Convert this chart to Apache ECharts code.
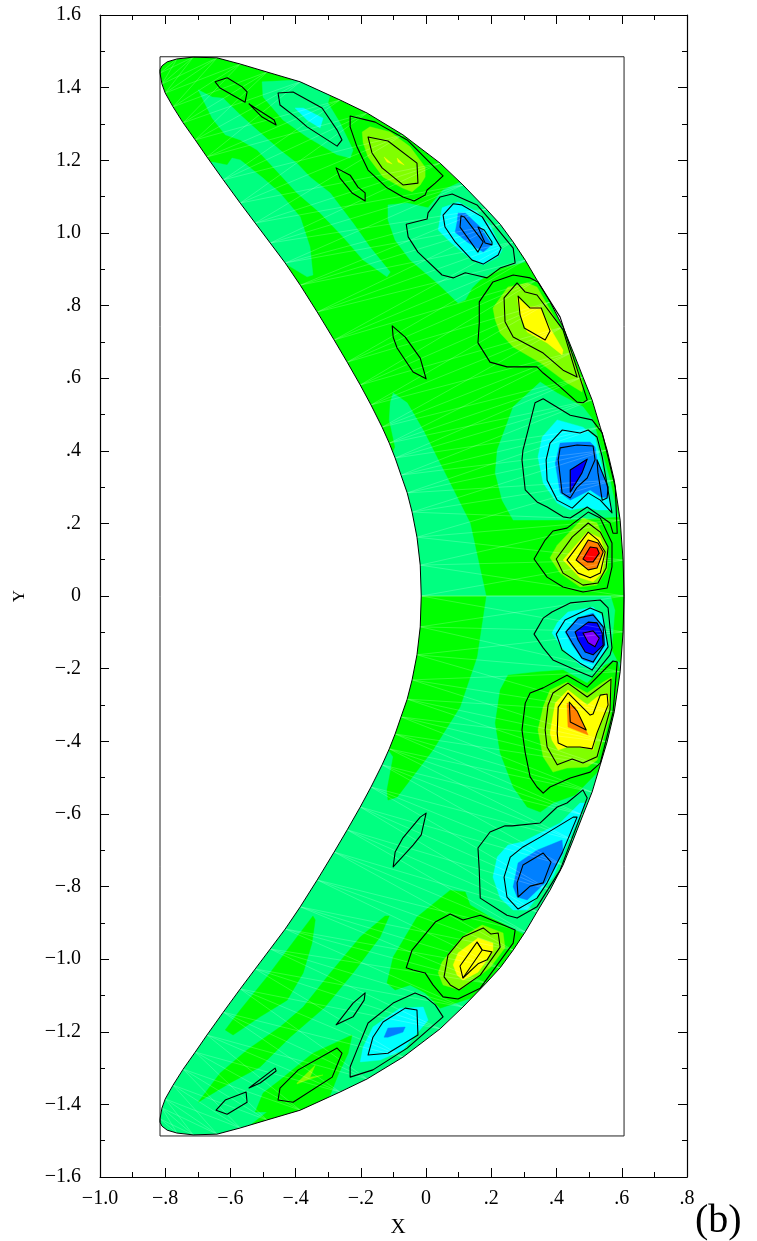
<!DOCTYPE html>
<html><head><meta charset="utf-8">
<style>html,body{margin:0;padding:0;background:#fff}#c{width:757px;height:1241px}</style>
<script src="https://cdn.jsdelivr.net/npm/echarts@6/dist/echarts.min.js"></script></head>
<body><div id="c"></div>
<script>
const xTickLabels=['\u22121.0','\u2212.8','\u2212.6','\u2212.4','\u2212.2','0','.2','.4','.6','.8'];
const yTickLabels=['\u22121.6','\u22121.4','\u22121.2','\u22121.0','\u2212.8','\u2212.6','\u2212.4','\u2212.2','0','.2','.4','.6','.8','1.0','1.2','1.4','1.6'];
const domainBox=[[-.816,1.485],[.607,1.485],[.607,-1.487],[-.816,-1.487]];
const outerUpper=[[.607,0],[.604,.099],[.595,.209],[.577,.319],[.555,.402],[.534,.465],[.509,.540],[.481,.603],[.451,.672],[.420,.741],[.380,.810],[.340,.870],[.304,.925],[.267,.975],[.227,1.024],[.184,1.066],[.113,1.132],[.043,1.192],[-.071,1.270],[-.181,1.330],[-.264,1.366],[-.386,1.416],[-.488,1.443],[-.570,1.465],[-.641,1.482],[-.714,1.484],[-.764,1.479],[-.794,1.471],[-.810,1.460],[-.816,1.449]];
const innerUpper=[[-.015,0],[-.018,.085],[-.028,.162],[-.043,.231],[-.058,.284],[-.077,.333],[-.095,.380],[-.113,.421],[-.135,.465],[-.169,.526],[-.202,.581],[-.242,.644],[-.282,.705],[-.334,.782],[-.386,.856],[-.432,.917],[-.478,.972],[-.524,1.027],[-.570,1.082],[-.622,1.146],[-.672,1.209],[-.708,1.256],[-.745,1.303],[-.776,1.347],[-.800,1.385],[-.810,1.410],[-.816,1.440]];

// filled contour bands, upper half
const s1=[[-.656,1.195],[-.610,1.187],[-.595,1.206],[-.570,1.201],[-.500,1.151],[-.448,1.110],[-.386,1.044],[-.356,.961],[-.347,.884],[-.365,.879],[-.426,.912],[-.540,1.008],[-.693,1.187]];
const band=[[-.699,1.394],[-.656,1.374],[-.622,1.371],[-.570,1.325],[-.518,1.283],[-.448,1.228],[-.396,1.192],[-.356,1.154],[-.294,1.110],[-.224,1.027],[-.172,.961],[-.110,.892],[-.120,.879],[-.193,.925],[-.255,.989],[-.325,1.055],[-.396,1.110],[-.469,1.181],[-.518,1.228],[-.570,1.256],[-.616,1.270],[-.656,1.316]];
const s3=[[-.503,1.416],[-.396,1.421],[-.294,1.380],[-.301,1.358],[-.264,1.303],[-.224,1.228],[-.233,1.206],[-.273,1.215],[-.365,1.264],[-.439,1.311],[-.500,1.374]];
const cyanTop=[[-.402,1.344],[-.377,1.344],[-.316,1.316],[-.325,1.289],[-.365,1.311]];
const ygTop=[[-.196,1.278],[-.172,1.292],[-.110,1.278],[-.049,1.237],[-.003,1.181],[-.003,1.154],[-.018,1.132],[-.043,1.113],[-.074,1.124],[-.132,1.154],[-.178,1.209],[-.193,1.248]];
const yellowSpeckA=[[-.129,1.209],[-.104,1.190],[-.120,1.195]];
const yellowSpeckB=[[-.089,1.206],[-.067,1.187],[-.086,1.195]];
const springBlob1=[[-.117,1.077],[-.058,1.082],[.006,1.069],[.052,1.118],[.120,1.146],[.196,1.077],[.242,1.008],[.304,.920],[.227,.903],[.166,.870],[.141,.848],[.120,.815],[.098,.807],[.034,.862],[-.049,.925],[-.095,.980],[-.117,1.036]];
const cyanBlob1=[[.049,1.069],[.098,1.085],[.156,1.058],[.196,1.022],[.233,.953],[.221,.934],[.175,.912],[.141,.925],[.074,.975],[.037,1.008]];
const azureBlob1=[[.098,1.055],[.120,1.055],[.166,1.016],[.202,.967],[.175,.947],[.126,.975],[.089,1.002],[.095,1.030]];
const ygBlob8=[[.205,.793],[.251,.851],[.310,.862],[.340,.851],[.420,.727],[.481,.587],[.478,.562],[.432,.587],[.350,.642],[.267,.686],[.227,.724],[.212,.760]];
const yellowBlob8=[[.279,.823],[.313,.796],[.350,.796],[.380,.738],[.420,.677],[.417,.664],[.371,.697],[.310,.727],[.288,.774]];
const springBlob4=[[.212,.339],[.218,.402],[.267,.521],[.350,.589],[.402,.559],[.481,.521],[.512,.485],[.564,.319],[.589,.218],[.432,.209],[.310,.209],[.267,.209],[.233,.264]];
const cyanBlob4=[[.343,.383],[.356,.438],[.402,.485],[.481,.465],[.518,.438],[.570,.237],[.524,.237],[.494,.245],[.442,.237],[.402,.256],[.359,.311]];
const azureBlob4=[[.396,.366],[.411,.421],[.463,.424],[.503,.424],[.518,.410],[.524,.375],[.558,.300],[.555,.270],[.534,.273],[.503,.292],[.442,.264],[.411,.284]];
const blueBlob4=[[.442,.347],[.494,.377],[.478,.339],[.442,.286]];
const ygRed=[[.380,.105],[.402,.140],[.481,.215],[.524,.201],[.558,.135],[.555,.072],[.524,.030],[.472,.025],[.411,.063]];
const yellowRed=[[.420,.099],[.494,.176],[.534,.160],[.549,.118],[.540,.063],[.512,.039],[.472,.050]];
const orangeRed=[[.460,.099],[.497,.154],[.527,.146],[.543,.121],[.524,.077],[.497,.072]];
const redCore=[[.481,.102],[.503,.135],[.524,.132],[.531,.118],[.512,.094],[.494,.094]];
const springInner=[[-.110,.532],[-.101,.559],[-.058,.532],[-.009,.457],[.064,.328],[.135,.201],[.184,0],[-.034,0],[-.049,.182],[-.110,.375],[-.095,.410],[-.113,.485]];

// filled contour bands, lower half
const greenInner=[[.184,0],[.156,-.168],[.104,-.306],[.021,-.424],[-.089,-.554],[-.117,-.562],[-.120,-.534],[-.101,-.443],[-.126,-.410],[-.080,-.286],[-.034,-.121],[-.034,0]];
const greenBlobLow=[[.212,-.350],[.227,-.259],[.251,-.218],[.340,-.209],[.420,-.204],[.494,-.240],[.549,-.190],[.586,-.176],[.610,-.259],[.570,-.443],[.512,-.498],[.457,-.548],[.389,-.570],[.350,-.595],[.310,-.581],[.267,-.526],[.227,-.432]];
const greenEdge=[[.567,0],[.656,0],[.656,-.231],[.586,-.176],[.570,-.149],[.580,-.039]];
const ygLow=[[.343,-.369],[.359,-.306],[.380,-.259],[.432,-.237],[.494,-.267],[.543,-.237],[.570,-.223],[.564,-.333],[.524,-.452],[.494,-.471],[.432,-.474],[.389,-.485],[.359,-.443]];
const yellowLow=[[.380,-.377],[.396,-.295],[.435,-.259],[.494,-.300],[.524,-.278],[.555,-.267],[.564,-.295],[.524,-.377],[.512,-.424],[.472,-.416],[.432,-.416],[.405,-.424],[.386,-.397]];
const orangeLow=[[.432,-.295],[.457,-.306],[.497,-.383],[.435,-.361]];
const cyanNeg=[[.386,-.102],[.402,-.074],[.435,-.044],[.512,-.030],[.543,-.058],[.558,-.140],[.512,-.204],[.472,-.190],[.417,-.143]];
const azureNeg=[[.426,-.099],[.463,-.061],[.512,-.047],[.543,-.085],[.549,-.135],[.512,-.185],[.481,-.176],[.448,-.135]];
const blueNeg=[[.457,-.099],[.497,-.072],[.524,-.074],[.540,-.102],[.543,-.135],[.512,-.162],[.488,-.154],[.466,-.121]];
const purpleNeg=[[.481,-.102],[.512,-.096],[.531,-.116],[.518,-.140],[.497,-.129]];
const cyanLow8=[[.205,-.774],[.218,-.719],[.251,-.686],[.297,-.677],[.411,-.625],[.472,-.570],[.488,-.570],[.389,-.774],[.310,-.865],[.267,-.865],[.227,-.832]];
const azureLow8=[[.267,-.801],[.282,-.735],[.340,-.700],[.417,-.672],[.420,-.708],[.365,-.790],[.310,-.837],[.279,-.829]];
const greenLow10=[[-.120,-1.066],[-.101,-.994],[-.028,-.884],[.074,-.810],[.120,-.815],[.135,-.851],[.196,-.884],[.304,-.934],[.258,-1.002],[.166,-1.099],[.043,-1.135],[-.003,-1.093],[-.049,-1.071],[-.095,-1.085]];
const ygLow10=[[.037,-1.038],[.049,-1.008],[.110,-.939],[.172,-.906],[.236,-.928],[.242,-.969],[.196,-1.024],[.104,-1.085],[.052,-1.071]];
const yellowLow10=[[.083,-1.016],[.098,-.983],[.159,-.942],[.205,-.956],[.205,-.980],[.159,-1.036],[.113,-1.058],[.095,-1.044]];
const greenBand=[[-.699,-1.394],[-.632,-1.314],[-.549,-1.250],[-.448,-1.187],[-.377,-1.132],[-.294,-1.038],[-.202,-.939],[-.126,-.881],[-.113,-.881],[-.141,-.939],[-.224,-1.038],[-.310,-1.132],[-.417,-1.215],[-.509,-1.297],[-.601,-1.341]];
const greenInnerTip=[[-.616,-1.195],[-.570,-1.140],[-.488,-1.049],[-.396,-.939],[-.347,-.881],[-.340,-.892],[-.350,-.956],[-.377,-1.038],[-.426,-1.113],[-.509,-1.159],[-.592,-1.209]];
const greenOuterTip=[[-.561,-1.473],[-.488,-1.421],[-.524,-1.421],[-.500,-1.369],[-.448,-1.333],[-.347,-1.259],[-.227,-1.209],[-.239,-1.259],[-.270,-1.319],[-.294,-1.374],[-.386,-1.457],[-.509,-1.498]];
const cyanLow12=[[-.202,-1.283],[-.193,-1.242],[-.163,-1.187],[-.080,-1.135],[-.009,-1.132],[.006,-1.168],[-.071,-1.250],[-.141,-1.278]];
const azureLow12=[[-.129,-1.215],[-.117,-1.190],[-.064,-1.187],[-.071,-1.201],[-.117,-1.215]];
const ygLow13=[[-.396,-1.341],[-.340,-1.292],[-.356,-1.325],[-.316,-1.319],[-.365,-1.333],[-.396,-1.344]];

// contour lines
const cTop1=[[-.454,1.385],[-.408,1.388],[-.319,1.344],[-.273,1.283],[-.258,1.256],[-.273,1.239],[-.365,1.292],[-.396,1.316],[-.448,1.352]];
const cTop2=[[-.647,1.416],[-.610,1.427],[-.564,1.402],[-.549,1.388],[-.555,1.360],[-.632,1.399]];
const cTop3=[[-.543,1.355],[-.466,1.311],[-.460,1.297],[-.503,1.319]];
const cTop4=[[-.276,1.179],[-.233,1.159],[-.209,1.126],[-.187,1.110],[-.187,1.088],[-.227,1.110],[-.264,1.151]];
const cMid7=[[-.104,.744],[-.064,.713],[-.018,.655],[0,.598],[-.040,.617],[-.089,.683],[-.101,.713]];
const cYg1=[[-.233,1.322],[-.156,1.305],[-.058,1.256],[.052,1.157],[.028,1.137],[.003,1.118],[-.003,1.104],[-.037,1.088],[-.071,1.099],[-.120,1.124],[-.178,1.173],[-.212,1.237],[-.233,1.292]];
const cYg2=[[-.178,1.264],[-.117,1.253],[-.028,1.192],[-.025,1.137],[-.071,1.132],[-.135,1.179],[-.166,1.220]];
const cB1a=[[-.061,1.024],[.003,1.038],[.006,1.055],[.043,1.099],[.080,1.107],[.156,1.077],[.196,1.036],[.267,.958],[.273,.917],[.227,.903],[.187,.876],[.150,.884],[.120,.890],[.083,.876],[.049,.884],[-.025,.947],[-.055,.989]];
const cB1b=[[.052,1.049],[.083,1.080],[.110,1.077],[.172,1.044],[.230,.958],[.221,.939],[.175,.914],[.141,.925],[.089,.975],[.058,1.016]];
const cB1c=[[.107,1.047],[.117,1.044],[.175,.975],[.159,.947],[.104,1.016]];
const cB1d=[[.159,1.016],[.178,1.008],[.202,.975],[.202,.967],[.181,.972]];
const cY8a=[[.163,.810],[.205,.865],[.267,.884],[.319,.876],[.343,.865],[.411,.768],[.494,.540],[.481,.532],[.463,.534],[.411,.576],[.359,.614],[.340,.631],[.267,.631],[.248,.631],[.196,.644],[.159,.697],[.163,.752]];
const cY8b=[[.239,.821],[.279,.862],[.304,.837],[.340,.829],[.420,.733],[.463,.603],[.420,.622],[.359,.669],[.267,.713],[.242,.755]];
const cY8c=[[.282,.826],[.319,.793],[.353,.793],[.380,.730],[.365,.705],[.301,.738],[.288,.774]];
const cB4a=[[.297,.402],[.334,.532],[.359,.543],[.442,.498],[.509,.485],[.540,.449],[.580,.300],[.586,.173],[.573,.173],[.564,.201],[.494,.245],[.442,.215],[.420,.218],[.371,.245],[.340,.259],[.304,.292],[.294,.375]];
const cB4b=[[.368,.375],[.380,.421],[.417,.457],[.472,.449],[.497,.457],[.524,.438],[.540,.383],[.570,.229],[.534,.264],[.497,.284],[.448,.242],[.402,.264],[.371,.319]];
const cB4c=[[.405,.375],[.411,.408],[.463,.416],[.512,.413],[.518,.375],[.494,.325],[.463,.300],[.442,.270],[.417,.284]];
const cB4d=[[.524,.375],[.558,.300],[.555,.270],[.540,.264],[.527,.339]];
const cB4e=[[.442,.347],[.494,.377],[.478,.339],[.442,.286]];
const cRa=[[.331,.102],[.365,.154],[.389,.179],[.432,.187],[.497,.231],[.534,.215],[.570,.146],[.570,.080],[.555,.022],[.481,.011],[.420,.025],[.371,.052]];
const cRb=[[.399,.102],[.448,.162],[.497,.201],[.534,.176],[.558,.135],[.552,.077],[.527,.036],[.481,.030],[.420,.063]];
const cRc=[[.432,.099],[.497,.176],[.527,.154],[.549,.121],[.534,.063],[.503,.050],[.466,.063]];
const cRd=[[.460,.099],[.497,.154],[.527,.146],[.543,.121],[.524,.077],[.497,.072]];
const cRe=[[.481,.102],[.503,.135],[.524,.132],[.531,.118],[.512,.094],[.494,.094]];
const cNa=[[.331,-.105],[.359,-.061],[.386,-.044],[.442,-.019],[.534,-.011],[.558,-.033],[.570,-.143],[.564,-.162],[.509,-.223],[.472,-.209],[.389,-.176],[.359,-.143]];
const cNb=[[.399,-.105],[.426,-.066],[.503,-.033],[.540,-.047],[.558,-.140],[.509,-.204],[.472,-.185],[.417,-.149]];
const cNc=[[.429,-.099],[.466,-.061],[.512,-.052],[.543,-.085],[.546,-.135],[.512,-.182],[.478,-.171],[.448,-.129]];
const cNd=[[.457,-.099],[.497,-.072],[.524,-.074],[.540,-.102],[.543,-.135],[.512,-.162],[.488,-.154],[.466,-.121]];
const cNe=[[.481,-.102],[.512,-.096],[.531,-.116],[.518,-.140],[.497,-.129]];
const cLa=[[.294,-.369],[.304,-.295],[.319,-.267],[.359,-.253],[.432,-.218],[.494,-.251],[.573,-.179],[.586,-.182],[.573,-.322],[.534,-.460],[.503,-.485],[.442,-.501],[.380,-.526],[.359,-.543],[.340,-.526],[.319,-.498],[.304,-.432]];
const cLb=[[.365,-.369],[.374,-.300],[.389,-.267],[.435,-.240],[.494,-.278],[.567,-.229],[.564,-.314],[.524,-.443],[.481,-.460],[.448,-.449],[.402,-.465],[.371,-.416]];
const cLc=[[.402,-.377],[.405,-.306],[.435,-.267],[.503,-.328],[.512,-.325],[.534,-.273],[.555,-.270],[.558,-.300],[.524,-.377],[.509,-.421],[.472,-.416],[.432,-.416],[.405,-.405]];
const cLd=[[.439,-.292],[.463,-.317],[.491,-.369],[.442,-.347]];
const cB8a=[[.159,-.694],[.196,-.650],[.242,-.633],[.264,-.633],[.350,-.625],[.402,-.581],[.432,-.570],[.481,-.534],[.494,-.556],[.411,-.755],[.340,-.856],[.279,-.887],[.248,-.879],[.166,-.832],[.163,-.755]];
const cB8b=[[.239,-.774],[.258,-.719],[.297,-.691],[.350,-.664],[.451,-.609],[.463,-.609],[.417,-.708],[.371,-.790],[.340,-.832],[.282,-.862],[.248,-.829]];
const cB8c=[[.279,-.790],[.297,-.741],[.359,-.708],[.383,-.733],[.359,-.790],[.319,-.799],[.282,-.829]];
const cY10a=[[-.061,-1.024],[-.043,-.975],[.028,-.898],[.074,-.876],[.113,-.892],[.166,-.879],[.273,-.920],[.267,-.956],[.166,-1.080],[.098,-1.110],[.052,-1.104],[.021,-1.071],[-.003,-1.038],[-.040,-1.030]];
const cY10b=[[.055,-1.049],[.067,-.989],[.113,-.939],[.175,-.914],[.199,-.931],[.221,-.928],[.227,-.967],[.166,-1.044],[.101,-1.085],[.074,-1.071]];
const cY10c=[[.104,-1.019],[.156,-.953],[.172,-.975],[.202,-.980],[.187,-1.002],[.159,-1.013],[.113,-1.052]];
const cY10d=[[.156,-.953],[.172,-.975],[.113,-1.052]];
const cC12a=[[-.233,-1.325],[-.233,-1.297],[-.212,-1.250],[-.178,-1.176],[-.101,-1.121],[-.034,-1.093],[-.003,-1.104],[.028,-1.126],[.052,-1.159],[-.058,-1.245],[-.163,-1.305]];
const cC12b=[[-.178,-1.264],[-.163,-1.215],[-.132,-1.173],[-.064,-1.135],[-.028,-1.140],[-.025,-1.209],[-.117,-1.259]];
const cL13=[[-.454,-1.388],[-.448,-1.355],[-.392,-1.305],[-.273,-1.245],[-.258,-1.259],[-.288,-1.325],[-.408,-1.394]];
const cL14=[[-.644,-1.416],[-.616,-1.388],[-.552,-1.366],[-.549,-1.394],[-.610,-1.427]];
const cL15=[[-.543,-1.355],[-.463,-1.300],[-.460,-1.308],[-.509,-1.341]];
const cL11=[[-.276,-1.181],[-.224,-1.121],[-.187,-1.093],[-.190,-1.113],[-.224,-1.159]];
const cL7=[[0,-.598],[-.018,-.609],[-.071,-.666],[-.095,-.705],[-.101,-.746],[-.040,-.686],[-.015,-.658]];

const GREEN='#00ff00',SPRING='#00ff80',YG='#80ff00',YEL='#ffff00',ORG='#ff8000',RED='#ff0000',CYN='#00ffff',AZU='#0080ff',BLU='#0000ff',PUR='#8000ff';
const mirror=a=>a.map(p=>[p[0],-p[1]]);
const outerLower=mirror(outerUpper), innerLower=mirror(innerUpper);
const F=(pts,fill)=>({pts,fill,closed:true});
const fills=[
 F(outerUpper.concat(innerUpper.slice().reverse()),GREEN),
 F(outerLower.concat(innerLower.slice().reverse()),SPRING),
 F(s1,SPRING),F(band,SPRING),F(s3,SPRING),F(cyanTop,CYN),F(springBlob1,SPRING),F(cyanBlob1,CYN),F(azureBlob1,AZU),
 F(ygTop,YG),F(yellowSpeckA,YEL),F(yellowSpeckB,YEL),F(ygBlob8,YG),F(yellowBlob8,YEL),
 F(springInner,SPRING),F(springBlob4,SPRING),F(cyanBlob4,CYN),F(azureBlob4,AZU),F(blueBlob4,BLU),
 F(ygRed,YG),F(yellowRed,YEL),F(orangeRed,ORG),F(redCore,RED),
 F(greenInner,GREEN),F(greenBlobLow,GREEN),F(greenEdge,GREEN),F(ygLow,YG),F(yellowLow,YEL),F(orangeLow,ORG),
 F(cyanNeg,CYN),F(azureNeg,AZU),F(blueNeg,BLU),F(purpleNeg,PUR),
 F(cyanLow8,CYN),F(azureLow8,AZU),F(greenLow10,GREEN),F(ygLow10,YG),F(yellowLow10,YEL),
 F(greenBand,GREEN),F(greenInnerTip,GREEN),F(greenOuterTip,GREEN),F(cyanLow12,CYN),F(azureLow12,AZU),F(ygLow13,YG)
];
// finite element mesh: straight edges joining the boundary nodes
const meshLines=[];
[[outerUpper,innerUpper],[outerLower,innerLower]].forEach(([o,n])=>{
 const m=Math.min(o.length,n.length);
 for(let i=0;i<m;i++){meshLines.push({pts:[o[i],n[i]]});if(i+1<m){meshLines.push({pts:[o[i],n[i+1]]});meshLines.push({pts:[o[i+1],n[i]]});}}
});
// masks trim the bands to the domain
const maskOuter=outerUpper.slice().reverse().concat(outerLower).concat([[-.83,-1.449],[-.83,-1.52],[.66,-1.52],[.66,1.52],[-.83,1.52],[-.83,1.449]]);
const maskInner=innerUpper.slice().reverse().concat(innerLower).concat([[-.83,-1.44],[-.83,1.44]]);
const contours=[cTop1,cTop2,cTop3,cTop4,cMid7,cYg1,cYg2,cB1a,cB1b,cB1c,cB1d,cY8a,cY8b,cY8c,cB4a,cB4b,cB4c,cB4d,cB4e,cRa,cRb,cRc,cRd,cRe,cNa,cNb,cNc,cNd,cNe,cLa,cLb,cLc,cLd,cB8a,cB8b,cB8c,cY10a,cY10b,cY10c,cL13,cL14,cL15,cL11,cL7,cC12a,cC12b].map(p=>({pts:p,closed:true}));
contours.push({pts:cY10d});

function layer(shapes,base){
 return {type:'custom',silent:true,clip:false,animation:false,
  data:shapes.map(()=>[0,0]),
  renderItem(params,api){
   const s=shapes[params.dataIndex];
   return {type:s.closed?'polygon':'polyline',shape:{points:s.pts.map(p=>api.coord(p))},
    style:Object.assign({fill:s.closed&&s.fill?s.fill:'none',stroke:s.fill?s.fill:undefined,lineWidth:s.fill?.4:0,lineJoin:'round'},base||{})};
  }};
}
const FONT='"Liberation Serif"';
const axisCommon={axisLine:{show:true,onZero:false,lineStyle:{color:'#000',width:1.2}},
 axisTick:{show:true,inside:true,length:9,lineStyle:{color:'#000',width:1}},
 minorTick:{show:true,splitNumber:2,length:5,lineStyle:{color:'#000',width:1}},splitLine:{show:false},minorSplitLine:{show:false}};
const chart=echarts.init(document.getElementById('c'),null,{renderer:'canvas'});
chart.setOption({animation:false,backgroundColor:'#fff',
 grid:{left:100,top:15,width:587,height:1162,outerBoundsMode:'none'},
 xAxis:[Object.assign({type:'value',min:-1,max:.8,interval:.2,position:'bottom',
   name:'X',nameLocation:'middle',nameGap:40,nameTextStyle:{fontFamily:FONT,fontSize:21,color:'#000',padding:[0,0,0,9]},
   axisLabel:{fontFamily:FONT,fontSize:20,color:'#000',margin:12,showMinLabel:true,showMaxLabel:true,formatter:v=>xTickLabels[Math.round((v+1)/.2)]}},axisCommon),
  Object.assign({type:'value',min:-1,max:.8,interval:.2,position:'top',axisLabel:{show:false}},axisCommon)],
 yAxis:[Object.assign({type:'value',min:-1.6,max:1.6,interval:.2,position:'left',
   name:'Y',nameLocation:'middle',nameGap:72,nameRotate:90,nameTextStyle:{fontFamily:FONT,fontSize:17,color:'#000'},
   axisLabel:{fontFamily:FONT,fontSize:20,color:'#000',margin:19,showMinLabel:true,showMaxLabel:true,formatter:v=>yTickLabels[Math.round((v+1.6)/.2)]}},axisCommon),
  Object.assign({type:'value',min:-1.6,max:1.6,interval:.2,position:'right',axisLabel:{show:false}},axisCommon)],
 graphic:[{type:'text',left:695,top:1201,silent:true,style:{text:'(b)',font:'40px "Liberation Serif"',fill:'#000'}}],
 series:[
  layer(fills),
  layer(meshLines,{stroke:'rgba(255,255,255,0.32)',lineWidth:.6,fill:'none'}),
  layer([{pts:maskOuter,closed:true},{pts:maskInner,closed:true}],{fill:'#fff',stroke:'#fff',lineWidth:0}),
  layer([{pts:domainBox,closed:true}],{stroke:'#222',lineWidth:1,fill:'none'}),
  layer([{pts:outerUpper.slice().reverse().concat(outerLower.slice(1))},{pts:innerUpper.slice().reverse().concat(innerLower.slice(1))},{pts:[outerUpper[outerUpper.length-1],innerUpper[innerUpper.length-1]]},{pts:[outerLower[outerLower.length-1],innerLower[innerLower.length-1]]}],{stroke:'#000',lineWidth:1,fill:'none'}),
  layer(contours,{stroke:'#000',lineWidth:1.1,fill:'none'})
 ]});
</script></body></html>
